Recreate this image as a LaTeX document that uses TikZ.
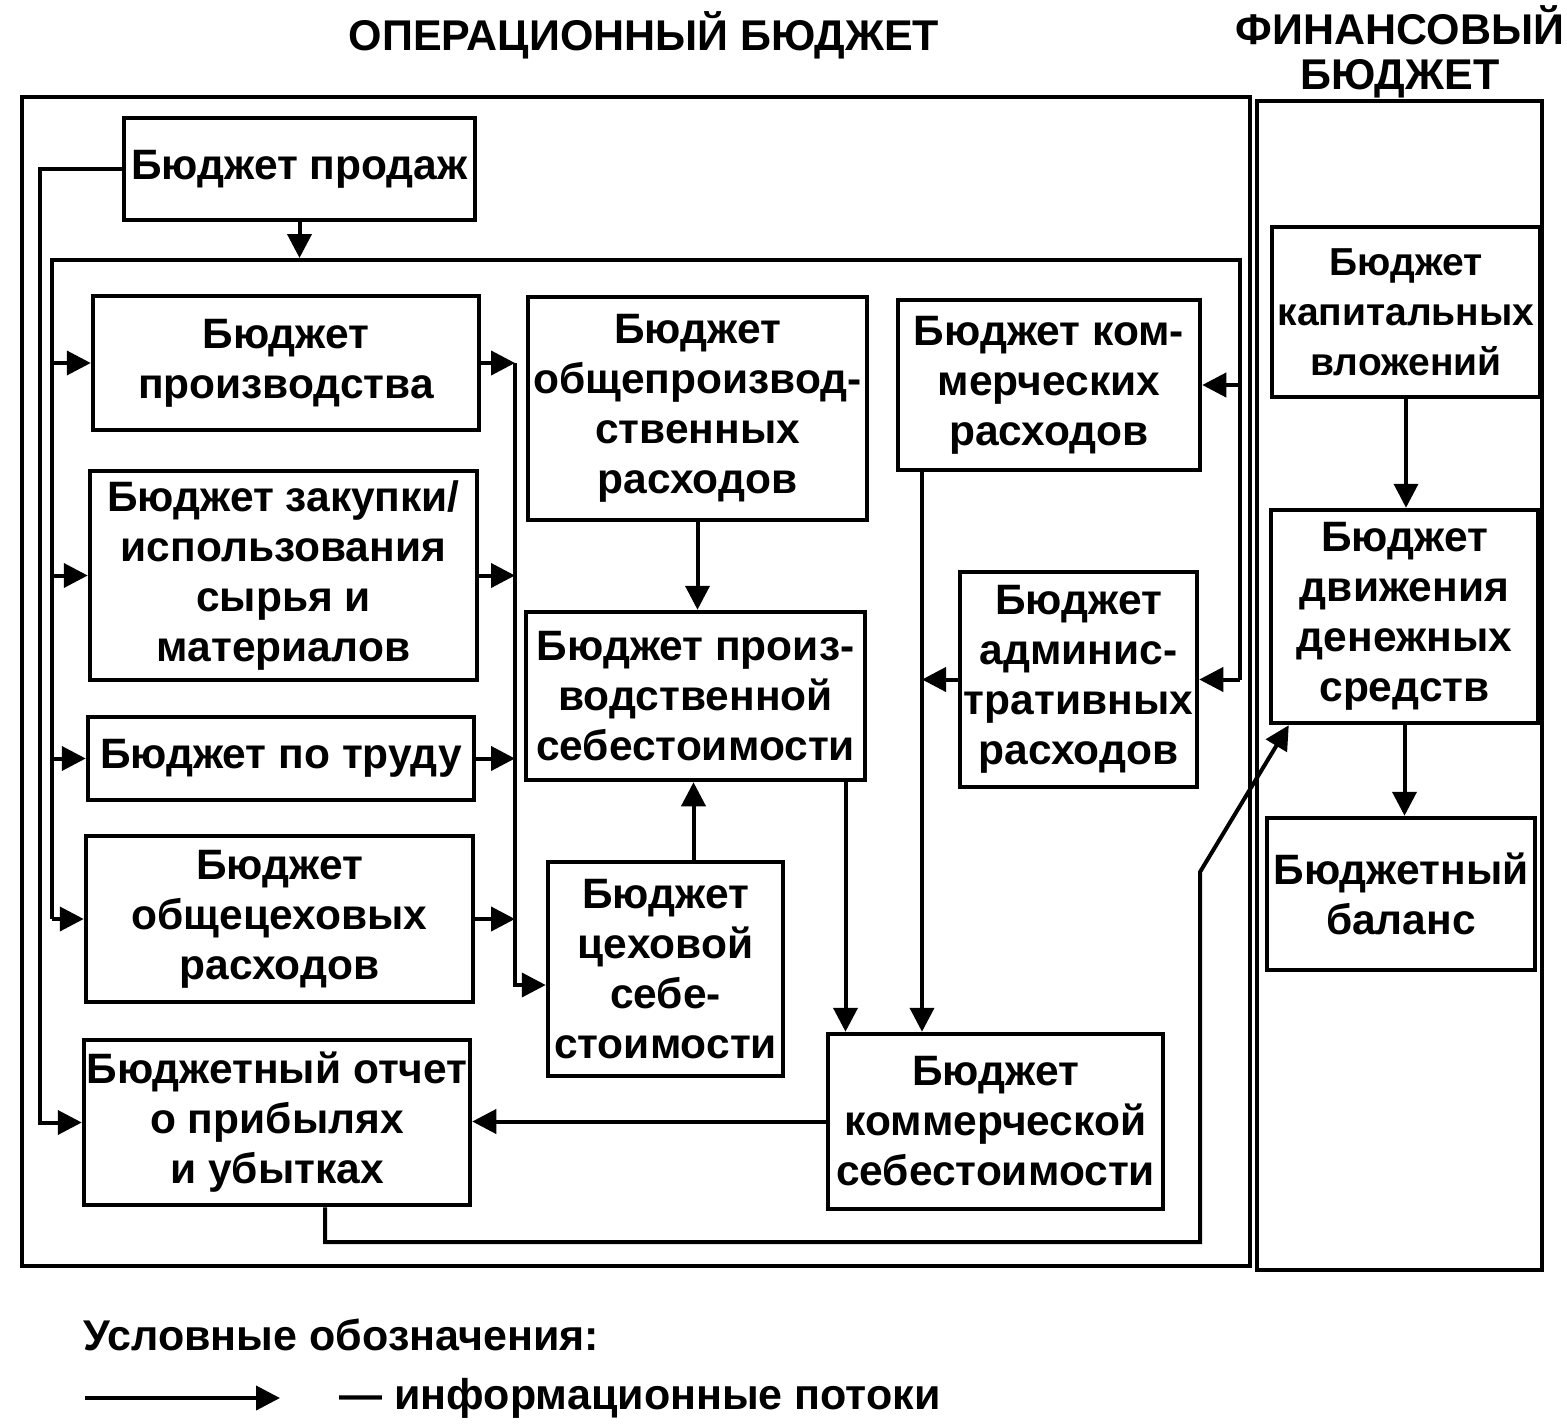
\documentclass[tikz,border=0pt]{standalone}
\usepackage{fontspec}
\setmainfont{Liberation Sans}
\usetikzlibrary{arrows.meta}

\tikzset{
  box/.style={draw, line width=4.5pt, align=center, inner sep=0pt,
    font=\bfseries\fontsize{42.5}{50}\selectfont},
  wire/.style={line width=4pt},
  flow/.style={wire, -{Triangle[length=24pt,width=24pt]}},
  title/.style={align=center, font=\bfseries\fontsize{43}{45}\selectfont},
}

\begin{document}
\begin{tikzpicture}[x=1pt,y=-1pt]

\useasboundingbox (0,0) rectangle (1567,1427);

\def\opframe{(22,97) rectangle (1250,1266)}
\def\finframe{(1257,101) rectangle (1542,1270)}

\draw[wire] \opframe;
\draw[wire] \finframe;

\node[title] (optitle) at (644,35) {ОПЕРАЦИОННЫЙ БЮДЖЕТ};
\node[title] (fintitle) at (1400,52) {ФИНАНСОВЫЙ\\БЮДЖЕТ};

\node[box, minimum width=351pt, minimum height=102pt] (sales) at (299.5,169) {Бюджет продаж};
\node[box, minimum width=386pt, minimum height=134pt] (prod) at (286,363) {Бюджет\\производства};
\node[box, minimum width=387pt, minimum height=209pt] (purch) at (283.5,575.5) {Бюджет закупки/\\использования\\сырья и\\материалов};
\node[box, minimum width=386pt, minimum height=83pt] (labor) at (281,758.5) {Бюджет по труду};
\node[box, minimum width=387pt, minimum height=166pt] (overhead) at (279.5,919) {Бюджет\\общецеховых\\расходов};
\node[box, minimum width=386pt, minimum height=165pt] (pnl) at (277,1122.5) {Бюджетный отчет\\о прибылях\\и убытках};

\node[box, minimum width=339pt, minimum height=223pt] (genprod) at (697.5,408.5) {Бюджет\\общепроизвод-\\ственных\\расходов};
\node[box, minimum width=339pt, minimum height=168pt] (prodcost) at (695.5,696) {Бюджет произ-\\водственной\\себестоимости};
\node[box, minimum width=235pt, minimum height=214pt] (shopcost) at (665.5,969) {Бюджет\\цеховой\\себе-\\стоимости};

\node[box, minimum width=302pt, minimum height=170pt] (commexp) at (1049,385) {Бюджет ком-\\мерческих\\расходов};
\node[box, minimum width=237pt, minimum height=215pt] (admin) at (1078.5,679.5) {Бюджет\\админис-\\тративных\\расходов};
\node[box, minimum width=335pt, minimum height=175pt] (commcost) at (995.5,1121.5) {Бюджет\\коммерческой\\себестоимости};

\node[box, minimum width=268pt, minimum height=170pt, font=\bfseries\fontsize{39}{50}\selectfont] (capex) at (1406,312) {Бюджет\\капитальных\\вложений};
\node[box, minimum width=267pt, minimum height=213pt] (cashflow) at (1404.5,616.5) {Бюджет\\движения\\денежных\\средств};
\node[box, minimum width=268pt, minimum height=152pt] (balance) at (1401,894) {Бюджетный\\баланс};

\coordinate (dl) at (52,260);
\coordinate (dr) at (1240,260);
\coordinate (col) at (515,985);
\coordinate (ce) at ([xshift=-127pt]commexp.south);
\coordinate (bend) at (1200,872);

\draw[flow] (sales.south) -- ([yshift=2pt]sales.south |- dl);
\draw[wire] (dl |- overhead.west) -- (dl) -- (dr) -- (dr |- admin.east);
\foreach \b in {prod,purch,labor,overhead}
  \draw[flow] (dl |- \b.west) -- (\b.west);
\foreach \b in {commexp,admin}
  \draw[flow] (dr |- \b.east) -- (\b.east);
\draw[flow] (sales.west) -| ([xshift=-42pt]pnl.west) -- (pnl.west);

\foreach \b in {prod,purch,labor,overhead}
  \draw[flow] (\b.east) -- (col |- \b.east);
\draw[flow] (col |- prod.east) -- (col) -- (col -| shopcost.west);

\draw[flow] (genprod.south) -- (genprod.south |- prodcost.north);
\draw[flow] ([xshift=28pt]shopcost.north) -- ([xshift=28pt]shopcost.north |- prodcost.south);
\draw[flow] ([xshift=150pt]prodcost.south) -- ([xshift=150pt]prodcost.south |- commcost.north);
\draw[flow] (ce) -- (ce |- commcost.north);
\draw[flow] (admin.west) -- (ce |- admin.west);
\draw[flow] (commcost.west) -- (commcost.west -| pnl.east);
\draw[flow] ([xshift=48pt]pnl.south) |- (bend |- 0,1242) -- (bend) -- ([xshift=20pt]cashflow.south west);

\draw[flow] (capex.south) -- (capex.south |- cashflow.north);
\draw[flow] (cashflow.south) -- (cashflow.south |- balance.north);

\node[title, anchor=west] (legtitle) at (80,1335) {Условные обозначения:};
\coordinate (la) at (85,1398);
\coordinate (lb) at (280,1398);
\draw[flow] (la) -- (lb);
\node[title, anchor=west] (legtext) at (336,1398) {— информационные потоки};

\end{tikzpicture}
\end{document}
